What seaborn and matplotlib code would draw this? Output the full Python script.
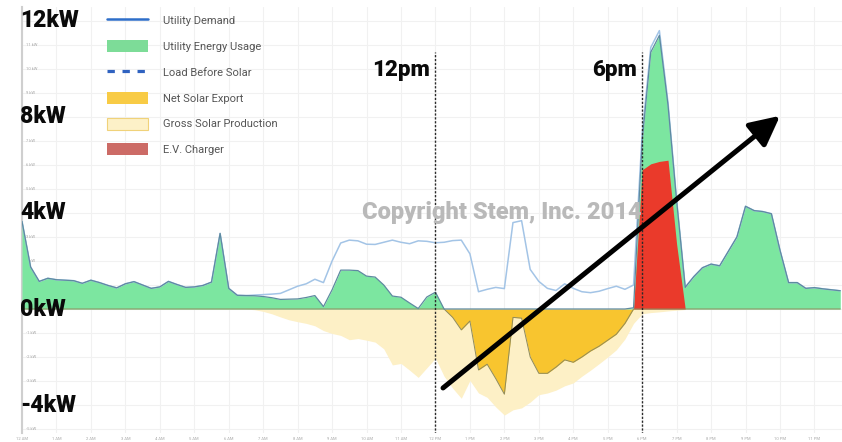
import numpy as np
import pandas as pd
import matplotlib
matplotlib.use("Agg")
import matplotlib.pyplot as plt
import matplotlib.patheffects as pe
from matplotlib.lines import Line2D
from matplotlib.patches import Patch
import seaborn as sns

# ---- 15-minute interval readings for one day (kW) ----
hours = np.arange(96) * 0.25

utility_demand = [
    3.65, 1.75, 1.15, 1.28, 1.22, 1.20, 1.18, 1.07, 1.20, 1.10, 0.98, 0.88,
    1.05, 1.14, 1.00, 0.86, 0.92, 1.15, 1.02, 0.90, 0.92, 0.98, 1.12, 3.15,
    0.86, 0.57, 0.56, 0.55, 0.52, 0.47, 0.40, 0.41, 0.42, 0.48, 0.56, 0.10,
    0.80, 1.62, 1.62, 1.60, 1.37, 1.33, 1.00, 0.54, 0.49, 0.25, 0.02, 0.50,
    0.70, 0.00, -0.35, -0.87, -0.50, -2.54, -2.30, -2.90, -3.55, -0.35, -0.38, -2.00,
    -2.68, -2.68, -2.42, -2.12, -2.22, -2.00, -1.75, -1.55, -1.30, -1.05, -0.60, 0.05,
    7.00, 10.70, 11.40, 8.50, 4.50, 0.90, 1.35, 1.72, 1.87, 1.80, 2.40, 3.00,
    4.28, 4.10, 4.06, 3.97, 2.45, 1.10, 1.10, 0.86, 0.89, 0.84, 0.80, 0.76,
]

load_before_solar = [
    3.65, 1.75, 1.15, 1.28, 1.22, 1.20, 1.18, 1.07, 1.20, 1.10, 0.98, 0.88,
    1.05, 1.14, 1.00, 0.86, 0.92, 1.15, 1.02, 0.90, 0.92, 0.98, 1.12, 3.15,
    0.86, 0.57, 0.56, 0.58, 0.60, 0.62, 0.65, 0.80, 0.95, 1.05, 1.24, 1.10,
    2.00, 2.75, 2.87, 2.84, 2.70, 2.69, 2.78, 2.87, 2.78, 2.72, 2.84, 2.82,
    2.76, 2.78, 2.85, 2.87, 2.30, 0.72, 0.82, 0.90, 0.85, 3.60, 3.68, 1.65,
    1.15, 0.86, 0.77, 1.05, 0.86, 0.72, 0.68, 0.74, 0.85, 0.95, 0.82, 1.00,
    7.30, 10.90, 11.60, 8.60, 4.55, 0.92, 1.35, 1.72, 1.87, 1.80, 2.40, 3.00,
    4.28, 4.10, 4.06, 3.97, 2.45, 1.10, 1.10, 0.86, 0.89, 0.84, 0.80, 0.76,
]

gross_solar = [
    0, 0, 0, 0, 0, 0, 0, 0, 0, 0, 0, 0,
    0, 0, 0, 0, 0, 0, 0, 0, 0, 0, 0, 0,
    0, 0, 0, -0.03, -0.10, -0.20, -0.33, -0.45, -0.53, -0.60, -0.70, -0.90,
    -1.02, -1.10, -1.28, -1.23, -1.30, -1.38, -1.66, -2.33, -2.27, -2.55, -2.85, -2.45,
    -2.05, -2.80, -3.30, -3.72, -2.98, -3.50, -3.68, -4.08, -4.42, -4.20, -4.12, -3.88,
    -3.57, -3.50, -3.38, -3.20, -3.08, -2.80, -2.55, -2.28, -2.00, -1.70, -1.25, -0.60,
    -0.20, -0.15, -0.12, -0.08, -0.05, -0.02, 0, 0, 0, 0, 0, 0,
    0, 0, 0, 0, 0, 0, 0, 0, 0, 0, 0, 0,
]

ev_charger = [0.0] * 72 + [5.80, 6.05, 6.15, 6.20, 2.70] + [0.0] * 19

y_big_ticks = [12, 8, 4, 0, -4]
y_big_labels = ["12kW", "8kW", "4kW", "0kW", "-4kW"]
hour_labels = ["12 AM"] + [f"{h} AM" for h in range(1, 12)] + ["12 PM"] + [f"{h} PM" for h in range(1, 12)]
markers = [(12, "12pm"), (18, "6pm")]

df = pd.DataFrame({
    "hour": hours,
    "demand": utility_demand,
    "load": load_before_solar,
    "solar": gross_solar,
    "ev": ev_charger,
})
df["usage"] = df["demand"].clip(lower=0)
df["export"] = df["demand"].clip(upper=0)

# ---- colours ----
C_GREEN = "#7ce6a0"
C_GREEN_EDGE = "#5e8aa0"
C_NET = "#f8c52f"
C_NET_EDGE = "#8f8b5c"
C_GROSS = "#fdf0c6"
C_EV = "#ea3a2b"
C_LOAD = "#a3c4e6"

sns.set_theme(style="whitegrid", rc={
    "grid.color": "#f1f1f1",
    "grid.linewidth": 0.8,
    "axes.edgecolor": "#d0d0d0",
})
plt.rcParams["font.family"] = ["Roboto", "DejaVu Sans"]

fig = plt.figure(figsize=(8.42, 4.42), dpi=100)
ax = fig.add_axes([22 / 842, 9.4 / 442, 820 / 842, 426 / 442])

# stacked areas
ax.fill_between(df["hour"], 0, df["solar"], color=C_GROSS, lw=0, zorder=2)
ax.fill_between(df["hour"], 0, df["export"], color=C_NET, lw=0, zorder=3)
ax.fill_between(df["hour"], 0, df["usage"], color=C_GREEN, lw=0, zorder=4)
ax.fill_between(df["hour"], 0, df["ev"], color=C_EV, lw=0, zorder=5)

# outlines and load line
sns.lineplot(data=df, x="hour", y="export", ax=ax, color=C_NET_EDGE, lw=0.7, zorder=6, legend=False)
sns.lineplot(data=df, x="hour", y="load", ax=ax, color=C_LOAD, lw=1.1, zorder=6, legend=False)
sns.lineplot(data=df, x="hour", y="usage", ax=ax, color=C_GREEN_EDGE, lw=0.9, zorder=7, legend=False)

# time markers
for hr, lab in markers:
    ax.vlines(hr, -5.2, 10.7, colors="#2a2a2a", linestyles=(0, (1.6, 1.2)), lw=1.0, zorder=8)
    ax.text(hr - 0.15, 9.95, lab, ha="right", va="center", fontsize=16,
            fontweight="heavy", color="#0a0a0a", zorder=9)

# axes limits and ticks
ax.set_xlim(0, 23.8)
ax.set_ylim(-5.15, 12.6)
ax.set_xticks(range(24))
ax.set_xticklabels(hour_labels)
ax.set_yticks(range(-5, 13))
ax.set_yticklabels(["" if v in y_big_ticks else f"{v} kW" for v in range(-5, 13)])
ax.tick_params(axis="y", labelsize=3, labelcolor="#a8a8a8", length=0, pad=-3)
for t in ax.get_yticklabels():
    t.set_horizontalalignment("left")
ax.tick_params(axis="x", labelsize=3, labelcolor="#a8a8a8", length=2, color="#bbbbbb", pad=1)
ax.set_xlabel("")
ax.set_ylabel("")
for side in ["top", "right", "bottom"]:
    ax.spines[side].set_visible(False)
ax.spines["left"].set_color("#cfcfcf")
ax.spines["left"].set_linewidth(1.5)

# large kW labels on the value axis
for v, lab in zip(y_big_ticks, y_big_labels):
    ax.text(-0.002, v, lab, transform=ax.get_yaxis_transform(), ha="left", va="center",
            fontsize=16.5, fontweight="heavy", color="#0a0a0a", zorder=9)

# watermark
ax.text(13.93, 4.04, "Copyright Stem, Inc. 2014", ha="center", va="center",
        fontsize=17, fontweight="heavy", color="#b9b9b9", zorder=9)

# trend arrow
ax.annotate("", xy=(22.0, 8.05), xytext=(12.22, -3.29),
            arrowprops=dict(arrowstyle="-|>,head_length=0.9,head_width=0.45",
                            lw=3.6, color="black", shrinkA=0, shrinkB=0,
                            mutation_scale=20,
                            path_effects=[pe.SimplePatchShadow(offset=(1.5, -1.5), alpha=0.25),
                                          pe.Normal()]),
            zorder=10)

# legend
handles = [
    Line2D([], [], color="#2e6ec9", lw=1.8),
    Patch(facecolor="#7ddc98", edgecolor="none"),
    Line2D([], [], color="#2f62c0", lw=2.3, linestyle=(0, (2.3, 2.4))),
    Patch(facecolor="#f8cb45", edgecolor="none"),
    Patch(facecolor="#fdf1c8", edgecolor="#f0d27a", lw=0.8),
    Patch(facecolor="#cc6b66", edgecolor="none"),
]
labels = ["Utility Demand", "Utility Energy Usage", "Load Before Solar",
          "Net Solar Export", "Gross Solar Production", "E.V. Charger"]
leg = fig.legend(handles, labels, loc="upper left", bbox_to_anchor=(107 / 842, 1 - 14.5 / 442),
                 frameon=False, fontsize=8, handlelength=3.65, handleheight=1.3,
                 labelspacing=1.23, handletextpad=1.35, borderpad=0, borderaxespad=0)
for t in leg.get_texts():
    t.set_color("#555555")

fig.savefig("out.png", dpi=100)
